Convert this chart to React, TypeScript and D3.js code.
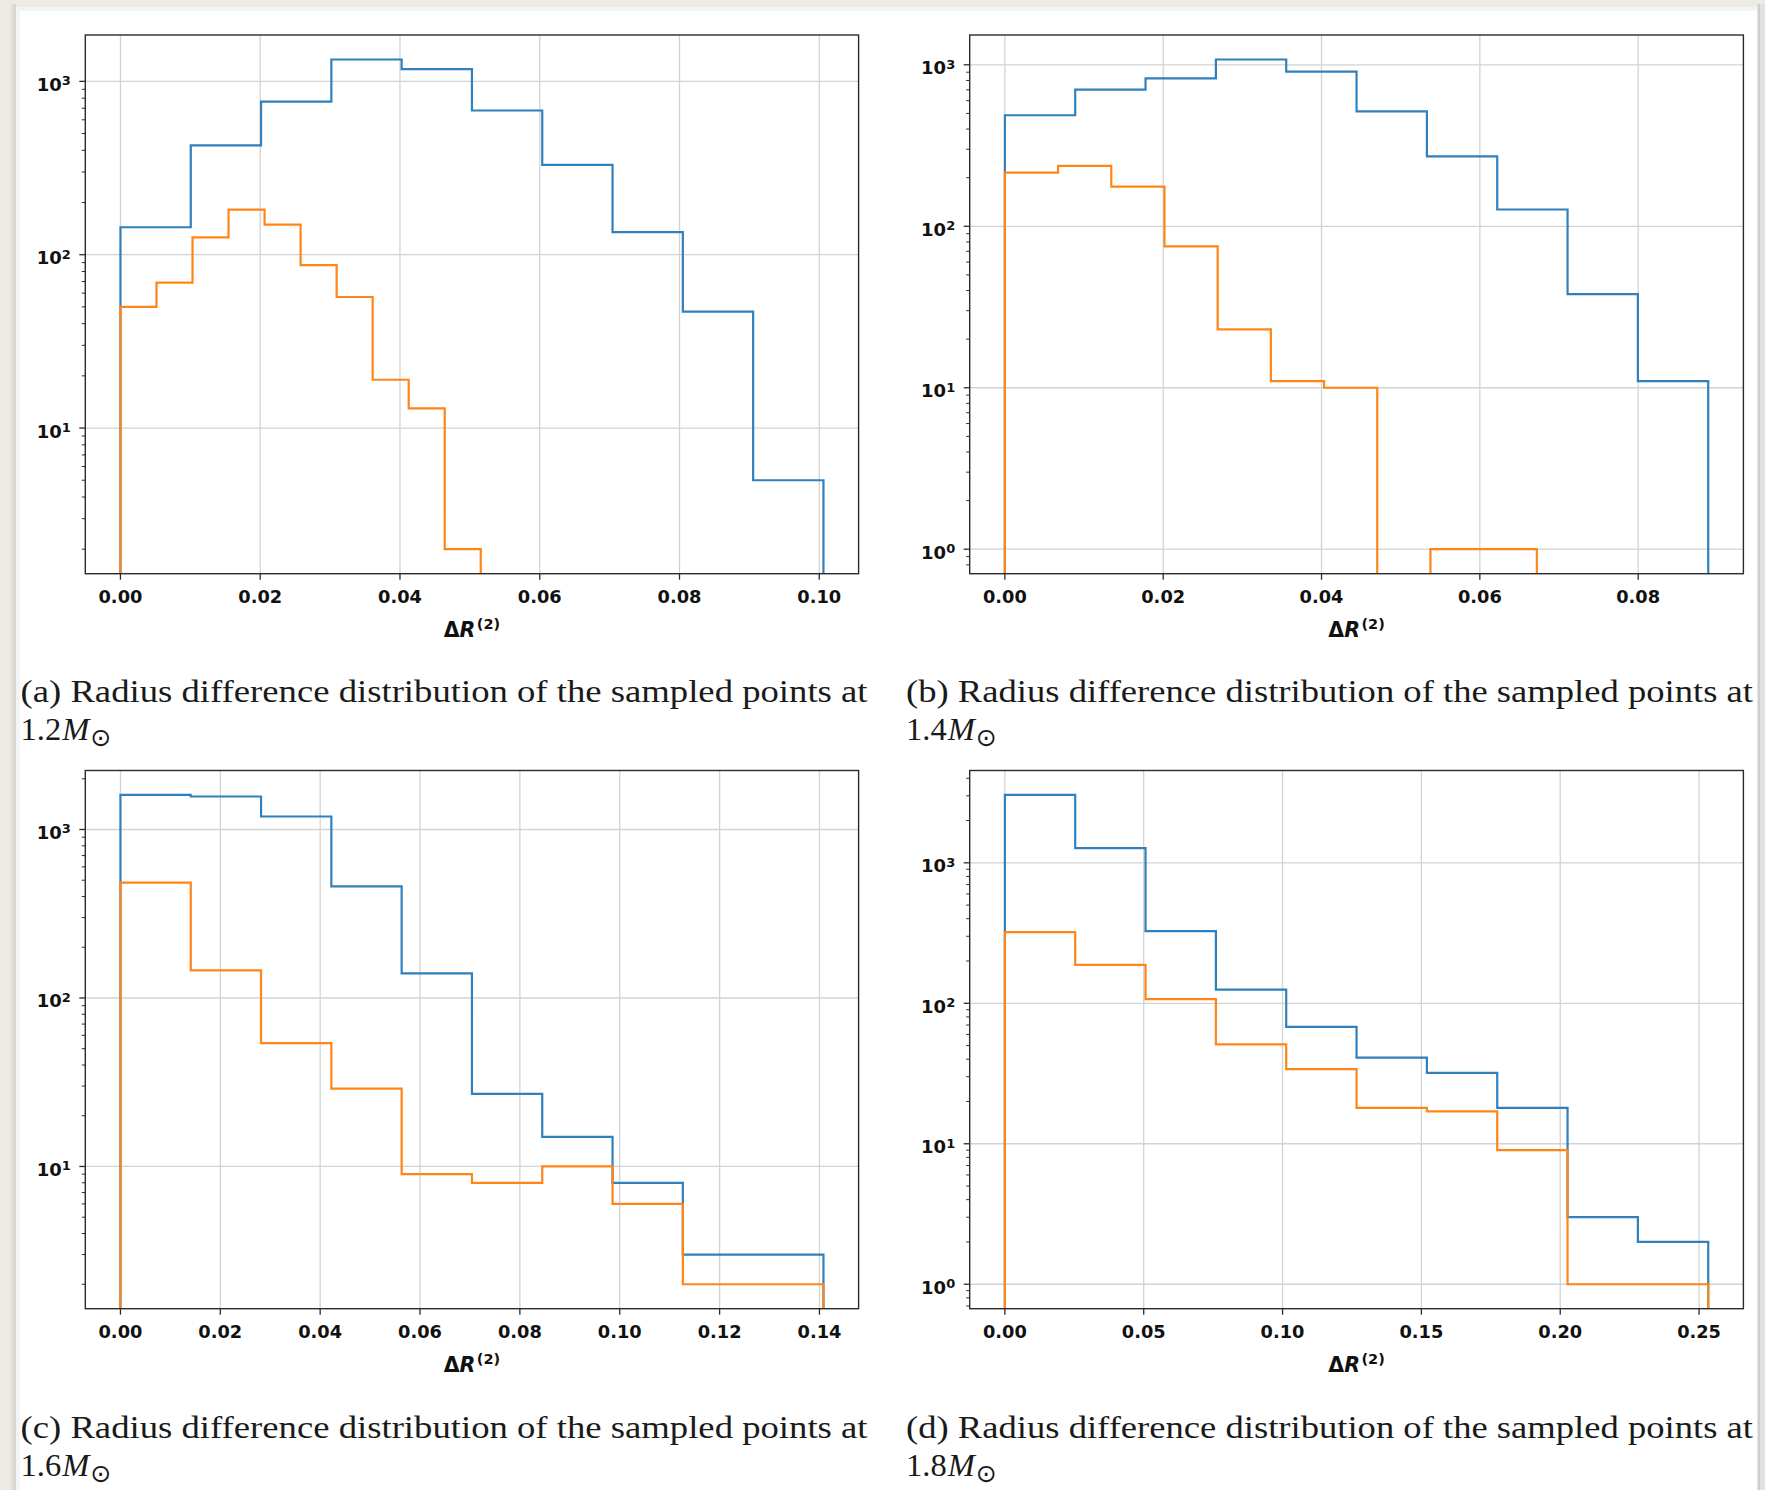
import React from "react";
import * as d3 from "d3";

// ---------- data ----------
const blueCountsA = [144, 427, 763, 1337, 1175, 679, 330, 135, 47, 5];
const orangeCountsA = [50, 69, 126, 182, 149, 87, 57, 19, 13, 2];
const blueCountsB = [487, 703, 824, 1079, 908, 515, 271, 127, 38, 11];
const orangeCountsB = [215, 237, 176, 75, 23, 11, 10, 0, 1, 1];
const blueCountsC = [1603, 1570, 1194, 459, 140, 27, 15, 8, 3, 3];
const orangeCountsC = [484, 146, 54, 29, 9, 8, 10, 6, 2, 2];
const blueCountsD = [3041, 1274, 326, 125, 68, 41, 32, 18, 3, 2];
const orangeCountsD = [321, 188, 107, 51, 34, 18, 17, 9, 1, 1];

// upper edge of the histogram range (lower edge is 0)
const blueRangeMax = [0.1006, 0.08885, 0.1408, 0.2533];
const orangeRangeMax = [0.05156, 0.0672, 0.1408, 0.2533];

const xTicksA = [0, 0.02, 0.04, 0.06, 0.08, 0.1];
const xTicksB = [0, 0.02, 0.04, 0.06, 0.08];
const xTicksC = [0, 0.02, 0.04, 0.06, 0.08, 0.1, 0.12, 0.14];
const xTicksD = [0, 0.05, 0.1, 0.15, 0.2, 0.25];

const panelTags = ["(a)", "(b)", "(c)", "(d)"];
const massValues = ["1.2", "1.4", "1.6", "1.8"];
const captionText = "Radius difference distribution of the sampled points at";

// ---------- layout / style ----------
const BLUE = "#2f80bd";
const ORANGE = "#ff8518";
const boxes = [
  { l: 85.3, t: 35, r: 858.6, b: 573.7 },
  { l: 969.7, t: 35, r: 1743.4, b: 573.7 },
  { l: 85.3, t: 770.5, r: 858.6, b: 1308.7 },
  { l: 969.7, t: 770.5, r: 1743.4, b: 1308.7 },
];
const captionPos = [
  { x: 20.5, y: 702 },
  { x: 906, y: 702 },
  { x: 20.5, y: 1438 },
  { x: 906, y: 1438 },
];

const panels = [
  { blue: blueCountsA, orange: orangeCountsA, ticks: xTicksA },
  { blue: blueCountsB, orange: orangeCountsB, ticks: xTicksB },
  { blue: blueCountsC, orange: orangeCountsC, ticks: xTicksC },
  { blue: blueCountsD, orange: orangeCountsD, ticks: xTicksD },
];

const fmt = d3.format(".2f");
const tickFont = "'DejaVu Sans', sans-serif";

function stepPoints(counts: number[], max: number) {
  const n = counts.length;
  const edges = d3.range(n + 1).map((i) => (i * max) / n);
  const pts: [number, number][] = [[edges[0], 0]];
  counts.forEach((c, i) => {
    pts.push([edges[i], c]);
    pts.push([edges[i + 1], c]);
  });
  pts.push([edges[n], 0]);
  return pts;
}

function Panel({ idx }: { idx: number }) {
  const box = boxes[idx];
  const p = panels[idx];
  const bMax = blueRangeMax[idx];
  const oMax = orangeRangeMax[idx];

  const x = d3
    .scaleLinear()
    .domain([-0.05 * bMax, 1.05 * bMax])
    .range([box.l, box.r]);

  const positives = [...p.blue, ...p.orange].filter((v) => v > 0);
  const lo = Math.log10(d3.min(positives) as number);
  const hi = Math.log10(d3.max(positives) as number);
  const pad = 0.05 * (hi - lo);
  const y = d3
    .scaleLog()
    .domain([Math.pow(10, lo - pad), Math.pow(10, hi + pad)])
    .range([box.b, box.t]);
  const [dMin, dMax] = y.domain();

  const line = d3
    .line<[number, number]>()
    .x((d) => x(d[0]))
    .y((d) => (d[1] > 0 ? y(d[1]) : box.b + 40));

  const majors = d3
    .range(Math.ceil(Math.log10(dMin)), Math.floor(Math.log10(dMax)) + 1)
    .map((k) => Math.pow(10, k));
  const minors: number[] = [];
  for (let k = Math.floor(Math.log10(dMin)); k <= Math.ceil(Math.log10(dMax)); k++) {
    for (let m = 2; m <= 9; m++) {
      const v = m * Math.pow(10, k);
      if (v >= dMin && v <= dMax) minors.push(v);
    }
  }

  const clipId = `clip${idx}`;
  const cx = (box.l + box.r) / 2;
  const cap = captionPos[idx];

  return (
    <g>
      <defs>
        <clipPath id={clipId}>
          <rect x={box.l} y={box.t} width={box.r - box.l} height={box.b - box.t} />
        </clipPath>
      </defs>
      {/* grid */}
      <g stroke="#d3d3d3" strokeWidth={1.3}>
        {p.ticks.map((t) => (
          <line key={"gx" + t} x1={x(t)} x2={x(t)} y1={box.t} y2={box.b} />
        ))}
        {majors.map((v) => (
          <line key={"gy" + v} x1={box.l} x2={box.r} y1={y(v)} y2={y(v)} />
        ))}
      </g>
      {/* histograms */}
      <g clipPath={`url(#${clipId})`} fill="none" strokeWidth={2.2} strokeLinejoin="miter">
        <path d={line(stepPoints(p.blue, bMax)) || ""} stroke={BLUE} />
        <path d={line(stepPoints(p.orange, oMax)) || ""} stroke={ORANGE} />
      </g>
      {/* frame */}
      <rect
        x={box.l}
        y={box.t}
        width={box.r - box.l}
        height={box.b - box.t}
        fill="none"
        stroke="#2b2b2b"
        strokeWidth={1.4}
      />
      {/* ticks */}
      <g stroke="#2b2b2b" strokeWidth={1.3}>
        {p.ticks.map((t) => (
          <line key={"tx" + t} x1={x(t)} x2={x(t)} y1={box.b} y2={box.b + 6} />
        ))}
        {majors.map((v) => (
          <line key={"ty" + v} x1={box.l - 6} x2={box.l} y1={y(v)} y2={y(v)} />
        ))}
      </g>
      <g stroke="#2b2b2b" strokeWidth={1.0}>
        {minors.map((v) => (
          <line key={"my" + v} x1={box.l - 3.5} x2={box.l} y1={y(v)} y2={y(v)} />
        ))}
      </g>
      {/* x tick labels */}
      <g fontFamily={tickFont} fontWeight="bold" fontSize={17.8} fill="#111" textAnchor="middle">
        {p.ticks.map((t) => (
          <text key={"lx" + t} x={x(t)} y={box.b + 29.6}>
            {fmt(t)}
          </text>
        ))}
      </g>
      {/* y tick labels */}
      <g fontFamily={tickFont} fontWeight="bold" fill="#111" textAnchor="end">
        {majors.map((v) => (
          <text key={"ly" + v} x={box.l - 14.5} y={y(v) + 9.5} fontSize={18}>
            <tspan>10</tspan>
            <tspan fontSize={13} dy={-5.5}>
              {String(Math.round(Math.log10(v)))}
            </tspan>
          </text>
        ))}
      </g>
      {/* x axis label */}
      <text
        x={cx}
        y={box.b + 62.8}
        fontFamily={tickFont}
        fontWeight="bold"
        fontSize={20.5}
        fill="#111"
        textAnchor="middle"
      >
        <tspan>Δ</tspan>
        <tspan fontStyle="italic">R</tspan>
        <tspan fontSize={14.5} dy={-7.5} dx={1.5}>
          (2)
        </tspan>
      </text>
      {/* caption */}
      <text
        x={cap.x}
        y={cap.y}
        fontFamily="'Liberation Serif', serif"
        fontSize={32.5}
        fill="#1a1a1a"
        textLength={847}
        lengthAdjust="spacingAndGlyphs"
      >
        {`${panelTags[idx]} ${captionText}`}
      </text>
      <text x={cap.x} y={cap.y + 38} fontFamily="'Liberation Serif', serif" fontSize={32.5} fill="#1a1a1a">
        <tspan>{massValues[idx]}</tspan>
        <tspan fontStyle="italic" dx={1}>M</tspan>
        <tspan fontFamily="'DejaVu Sans', sans-serif" fontSize={25} dy={6} dx={1}>
          ⊙
        </tspan>
      </text>
    </g>
  );
}

export default function App() {
  return (
    <svg
      width={1765}
      height={1490}
      style={{ position: "absolute", left: 0, top: 0, display: "block" }}
    >
      <defs>
        <linearGradient id="leftShade" x1="0" x2="1" y1="0" y2="0">
          <stop offset="0" stopColor="#ebe8e2" />
          <stop offset="1" stopColor="#d6d3cd" />
        </linearGradient>
      </defs>
      <rect x={0} y={0} width={1765} height={1490} fill="#eeebe5" />
      <rect x={10} y={4} width={6} height={1486} fill="url(#leftShade)" />
      <rect x={1756.5} y={4} width={9} height={1486} fill="#e2e2e2" />
      <rect x={1758.5} y={4} width={1.2} height={1486} fill="#c4c4c4" />
      <rect x={16} y={7} width={1741} height={1483} fill="#ffffff" />
      <rect x={16} y={7} width={1741} height={4} fill="#f1f5f5" />
      <rect x={16} y={7} width={4} height={1483} fill="#f1f5f5" />
      {[0, 1, 2, 3].map((i) => (
        <Panel key={i} idx={i} />
      ))}
    </svg>
  );
}
